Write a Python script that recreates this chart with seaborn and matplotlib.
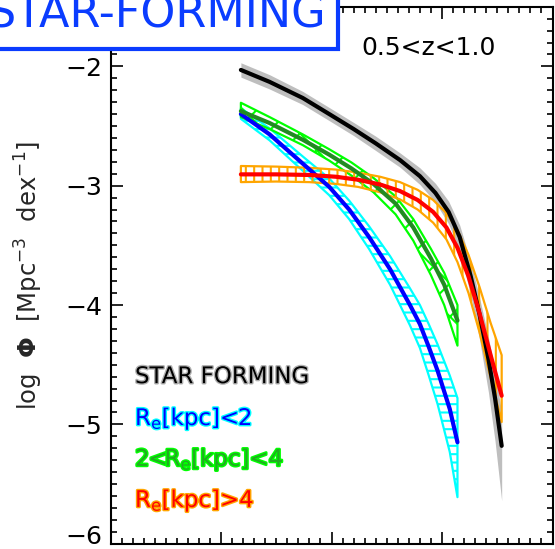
import numpy as np
import pandas as pd
import matplotlib
matplotlib.use('Agg')
import matplotlib.pyplot as plt
import matplotlib.patheffects as pe
from matplotlib.ticker import MultipleLocator, NullFormatter
import seaborn as sns

# Estilo
sns.set_theme(style="ticks")
plt.rcParams['font.family'] = ['DejaVu Sans']
plt.rcParams['hatch.linewidth'] = 1.5
plt.rcParams['axes.edgecolor'] = 'black'
plt.rcParams['text.color'] = 'black'
plt.rcParams['xtick.color'] = 'black'
plt.rcParams['ytick.color'] = 'black'

# Datos (log M, log Phi)
sf_mass = [10.09, 10.22, 10.37, 10.49, 10.60, 10.70, 10.81, 10.90, 10.97, 11.03, 11.08, 11.13, 11.17, 11.21, 11.24, 11.27]
sf_phi = [-2.03, -2.13, -2.265, -2.40, -2.525, -2.645, -2.785, -2.92, -3.06, -3.22, -3.43, -3.76, -4.08, -4.45, -4.78, -5.18]
sf_err_hi = [.06, .06, .055, .055, .055, .06, .06, .07, .08, .09, .10, .12, .14, .18, .22, .28]
sf_err_lo = [.06, .06, .055, .055, .055, .06, .06, .07, .08, .10, .12, .16, .21, .28, .36, .46]

small_mass = [10.09, 10.22, 10.37, 10.49, 10.58, 10.67, 10.765, 10.855, 10.90, 10.94, 10.98, 11.035, 11.07]
small_phi = [-2.40, -2.57, -2.815, -3.01, -3.20, -3.43, -3.70, -4.00, -4.16, -4.35, -4.55, -4.87, -5.15]
small_err_hi = [.05, .05, .06, .07, .075, .09, .11, .14, .16, .19, .22, .28, .37]
small_err_lo = [.04, .05, .06, .07, .08, .10, .13, .17, .20, .24, .28, .36, .46]

mid_mass = [10.09, 10.22, 10.37, 10.49, 10.59, 10.69, 10.79, 10.87, 10.95, 11.01, 11.07]
mid_phi = [-2.375, -2.475, -2.615, -2.74, -2.855, -2.985, -3.15, -3.35, -3.61, -3.83, -4.13]
mid_err_hi = [.07, .05, .045, .045, .05, .05, .06, .07, .08, .10, .13]
mid_err_lo = [.05, .05, .045, .05, .06, .07, .09, .11, .14, .17, .21]

big_mass = [10.09, 10.25, 10.40, 10.52, 10.62, 10.72, 10.81, 10.89, 10.96, 11.02, 11.07, 11.12, 11.17, 11.22, 11.27]
big_phi = [-2.905, -2.905, -2.91, -2.925, -2.95, -2.99, -3.045, -3.12, -3.22, -3.35, -3.52, -3.76, -4.07, -4.42, -4.76]
big_err_hi = [.07, .065, .06, .06, .06, .065, .075, .085, .10, .12, .15, .18, .22, .27, .34]
big_err_lo = [.065, .06, .06, .06, .06, .065, .07, .08, .09, .10, .12, .14, .16, .19, .22]

title_text = 'STAR-FORMING'
z_text = '0.5<z<1.0'
labels = ['STAR FORMING', r'R$_{\rm e}$[kpc]<2', r'2<R$_{\rm e}$[kpc]<4', r'R$_{\rm e}$[kpc]>4']

BLUE_TITLE = '#0a3cff'

fig = plt.figure(figsize=(5.55, 5.49), dpi=100)
ax = fig.add_axes([110.5 / 555, 5.3 / 549, 442 / 555, 537 / 549])


def banda(x, y, hi, lo, color, hatch=None, fill=False):
    x = np.array(x); y = np.array(y)
    up = y + np.array(hi)
    dn = y - np.array(lo)
    if fill:
        ax.fill_between(x, dn, up, color=color, lw=0, zorder=1)
    else:
        ax.fill_between(x, dn, up, facecolor='none', edgecolor=color,
                        hatch=hatch, lw=1.6, zorder=2)


# Total star forming
banda(sf_mass, sf_phi, sf_err_hi, sf_err_lo, '#bebebe', fill=True)
sns.lineplot(x=sf_mass, y=sf_phi, ax=ax, color='black', lw=3, zorder=3)

# Re < 2
banda(small_mass, small_phi, small_err_hi, small_err_lo, '#00ffff', hatch='--')
sns.lineplot(x=small_mass, y=small_phi, ax=ax, color='#0000ff', lw=3, zorder=3)

# 2 < Re < 4
banda(mid_mass, mid_phi, mid_err_hi, mid_err_lo, '#00ff00', hatch='x')
sns.lineplot(x=mid_mass, y=mid_phi, ax=ax, color='#228b22', lw=3, zorder=3)

# Re > 4
banda(big_mass, big_phi, big_err_hi, big_err_lo, '#ffa500', hatch='||')
sns.lineplot(x=big_mass, y=big_phi, ax=ax, color='#ff0000', lw=3, zorder=4)

# Ejes
ax.set_xlim(9.5, 11.5)
ax.set_ylim(-6.0, -1.5)
ax.xaxis.set_major_locator(MultipleLocator(0.5))
ax.xaxis.set_minor_locator(MultipleLocator(0.05))
ax.set_yticks([-6, -5, -4, -3, -2])
ax.yaxis.set_minor_locator(MultipleLocator(0.1))
ax.xaxis.set_major_formatter(NullFormatter())
ax.tick_params(which='both', direction='in', top=True, right=True, width=1.2)
ax.tick_params(which='major', length=8.5, labelsize=18, pad=6)
ax.tick_params(which='minor', length=4.3)
for s in ax.spines.values():
    s.set_linewidth(1.5)
    s.set_color('black')
ax.set_xlabel('')
ax.set_ylabel(r'log  $\mathbf{\Phi}$  [Mpc$^{-3}$  dex$^{-1}$]', fontsize=17.5)
ax.yaxis.set_label_coords(-0.148, 0.5)

# la etiqueta -6 queda pegada al borde inferior
ax.get_yticklabels()[0].set_va('baseline')

# Textos
ax.text(0.72, 0.923, z_text, transform=ax.transAxes, ha='center', va='center', fontsize=18)

text_cols = ['black', '#0000ff', '#22aa22', '#ff0000']
halo_cols = ['#b0b0b0', '#00ffff', '#00ff00', '#ffa500']
baselines = [0.299, 0.221, 0.145, 0.0685]
for lab, c, h, yb in zip(labels, text_cols, halo_cols, baselines):
    ax.text(0.0554, yb, lab, transform=ax.transAxes, ha='left', va='baseline',
            fontsize=16.5, color=c,
            path_effects=[pe.withStroke(linewidth=2, foreground=h)])

# caja del titulo (recortada arriba como en el panel original)
fig.text(326 / 555, 1 - 28 / 549, title_text, ha='right', va='baseline',
         fontsize=32, color=BLUE_TITLE, zorder=10,
         bbox=dict(boxstyle='square,pad=0.28', fc='white', ec=BLUE_TITLE, lw=3))

fig.savefig('out.png', dpi=100)
